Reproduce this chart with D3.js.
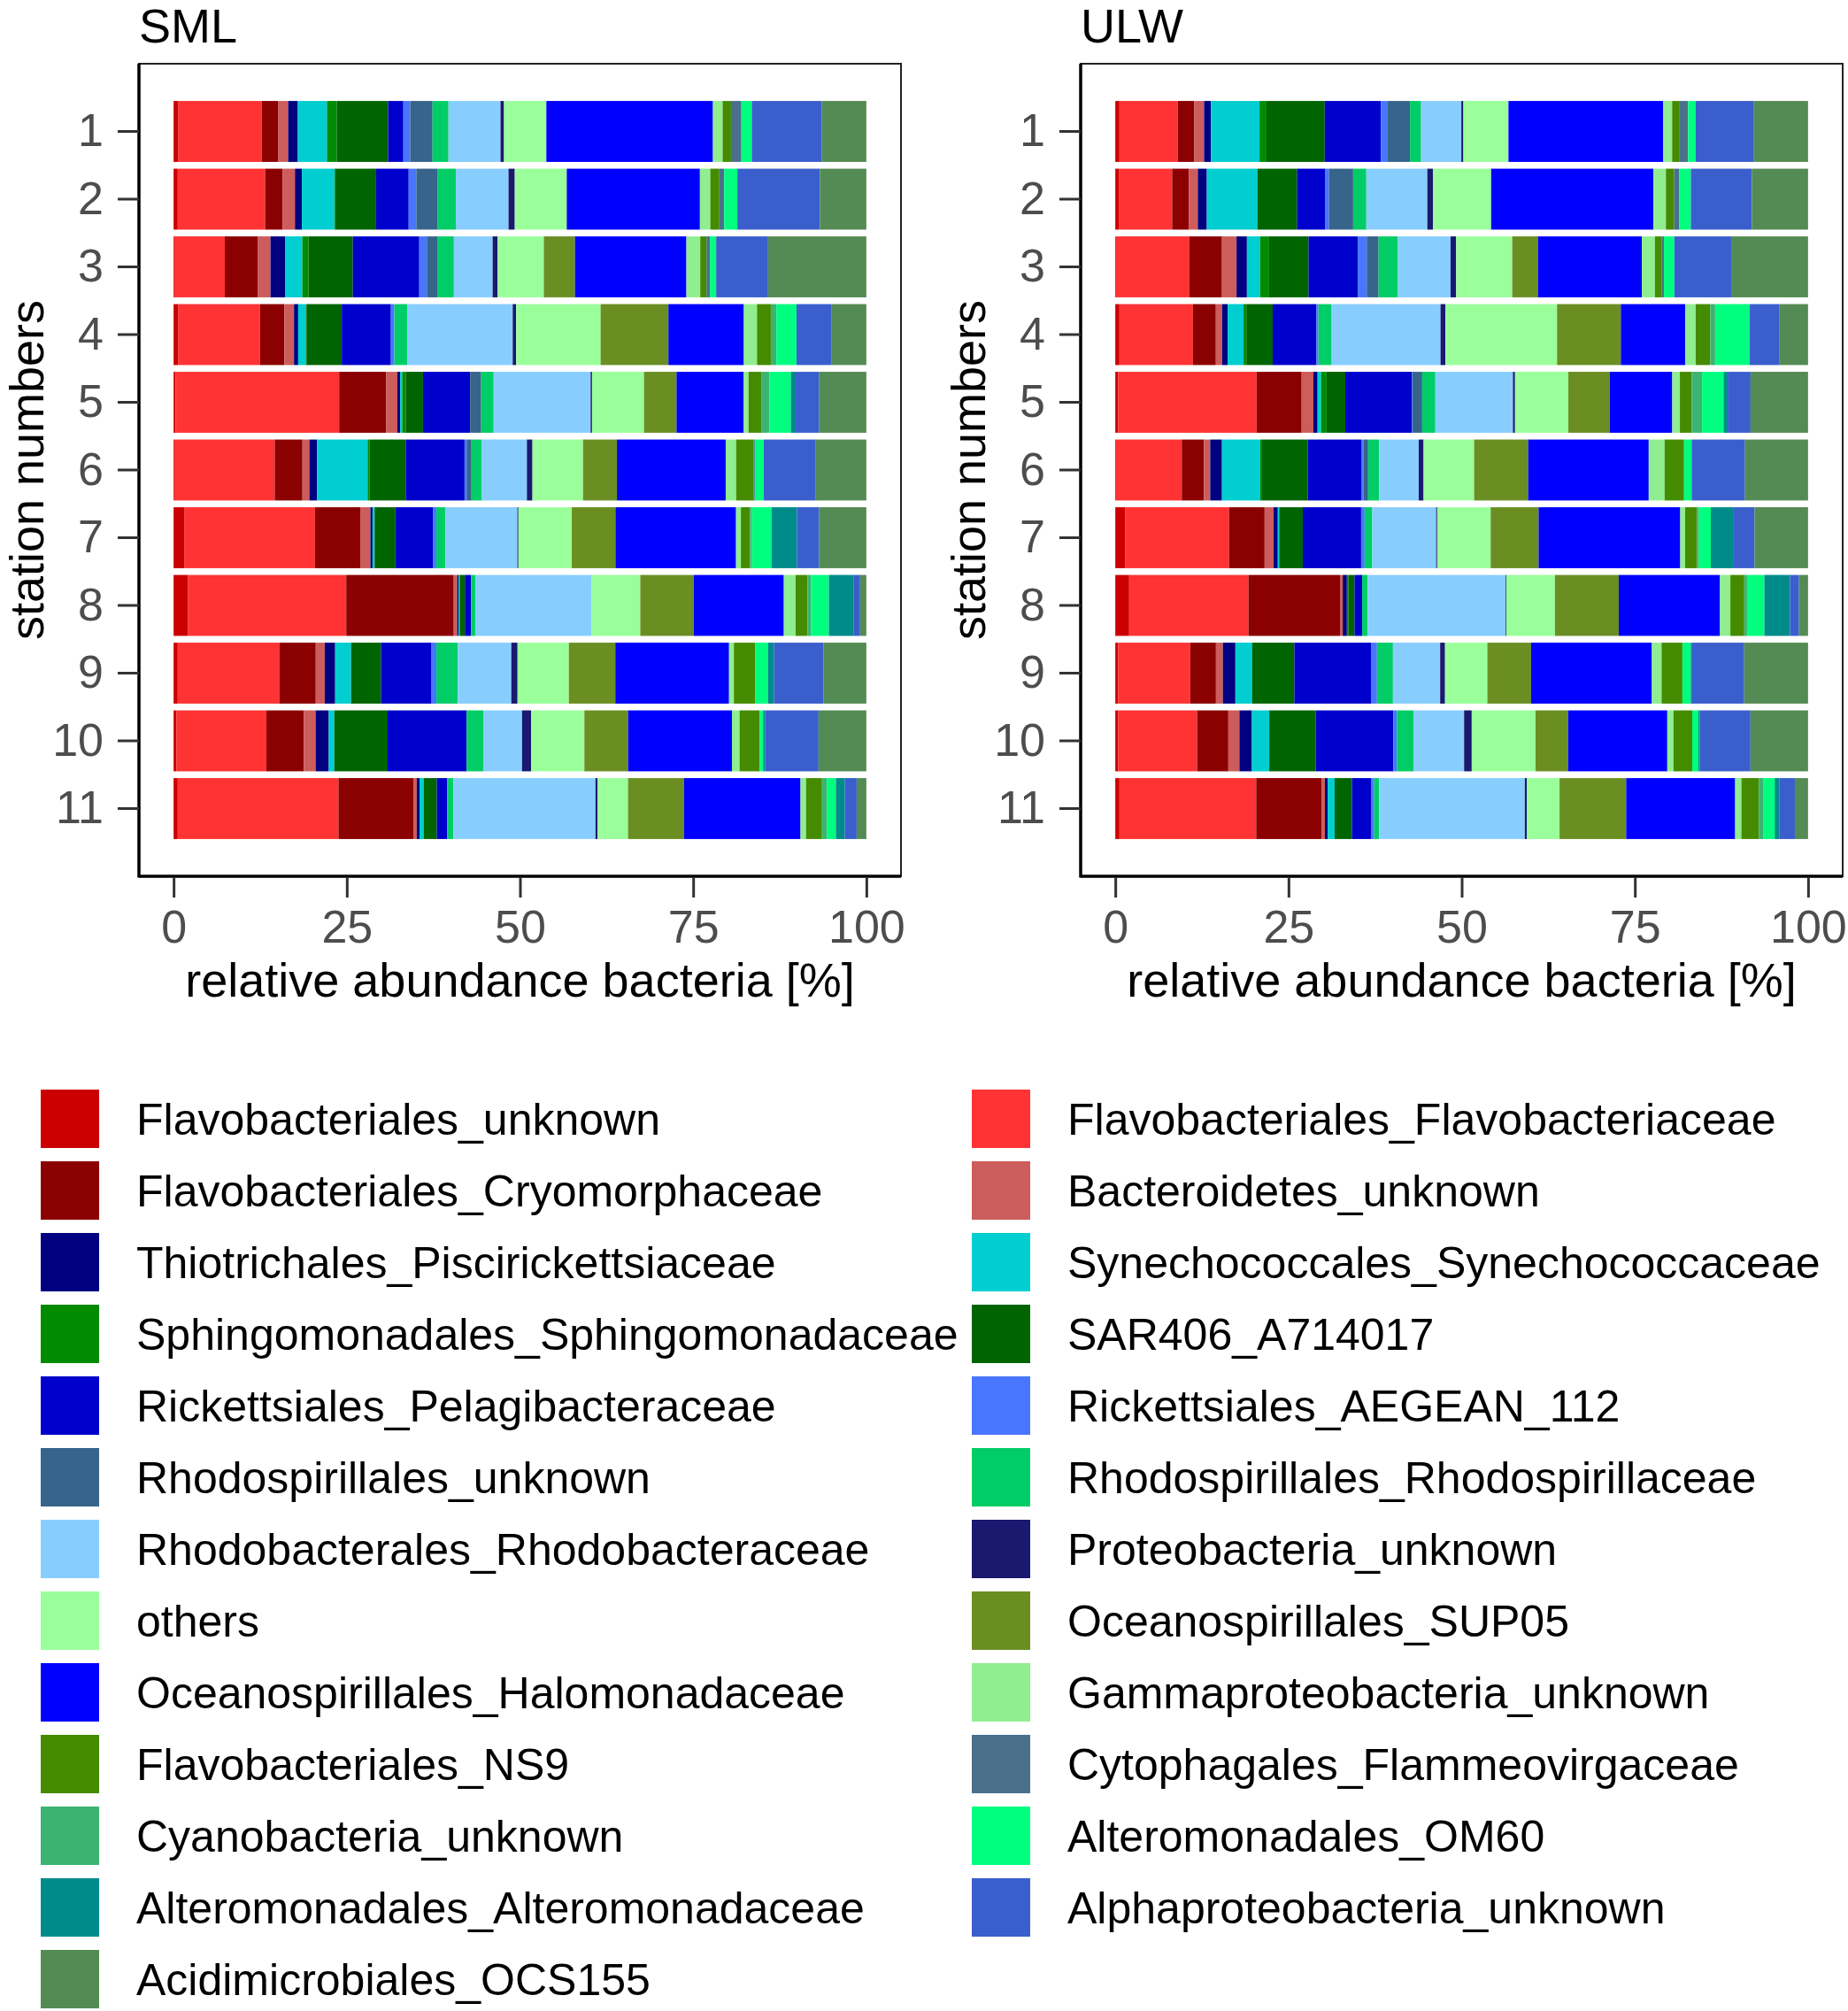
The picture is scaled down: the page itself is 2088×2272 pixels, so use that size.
<!DOCTYPE html>
<html>
<head>
<meta charset="utf-8">
<script src="https://cdn.jsdelivr.net/npm/d3@7"></script>
<style>
  body { margin: 0; background: #fff; }
  svg { font-family: "Liberation Sans", Arial, sans-serif; }
</style>
</head>
<body>
<svg id="chart"></svg>
<script>
/* stack order = legend order, read row by row */
const taxa = [
  "Flavobacteriales_unknown", "Flavobacteriales_Flavobacteriaceae",
  "Flavobacteriales_Cryomorphaceae", "Bacteroidetes_unknown",
  "Thiotrichales_Piscirickettsiaceae", "Synechococcales_Synechococcaceae",
  "Sphingomonadales_Sphingomonadaceae", "SAR406_A714017",
  "Rickettsiales_Pelagibacteraceae", "Rickettsiales_AEGEAN_112",
  "Rhodospirillales_unknown", "Rhodospirillales_Rhodospirillaceae",
  "Rhodobacterales_Rhodobacteraceae", "Proteobacteria_unknown",
  "others", "Oceanospirillales_SUP05",
  "Oceanospirillales_Halomonadaceae", "Gammaproteobacteria_unknown",
  "Flavobacteriales_NS9", "Cytophagales_Flammeovirgaceae",
  "Cyanobacteria_unknown", "Alteromonadales_OM60",
  "Alteromonadales_Alteromonadaceae", "Alphaproteobacteria_unknown",
  "Acidimicrobiales_OCS155"
];

const taxaColors = [
  "#CC0000", "#FF3333", "#8B0000", "#CD5C5C", "#000080", "#00CED1",
  "#008B00", "#006400", "#0000CD", "#4876FF", "#36648B", "#00CD66",
  "#87CEFF", "#191970", "#9AFF9A", "#6B8E23", "#0000FF", "#90EE90",
  "#458B00", "#4A708B", "#3CB371", "#00FF7F", "#008B8B", "#3A5FCD",
  "#548B54"
];

const stations = ["1", "2", "3", "4", "5", "6", "7", "8", "9", "10", "11"];
const xTicks = [0, 25, 50, 75, 100];

/* relative abundance per station (one row per station, columns follow taxa) */
const sml = [
  [0.7,12.0,2.4,1.4,1.4,4.2,1.4,7.4,2.2,1.0,3.2,2.3,7.5,0.5,6.1,0,24.0,1.4,1.2,1.5,0,1.5,0,10.1,6.4],
  [0.6,12.6,2.5,1.8,1.0,4.7,0.1,5.9,4.7,1.1,3.1,2.6,7.6,0.9,7.5,0,19.2,1.5,1.3,0.7,0,1.9,0,11.9,6.7],
  [0.1,7.3,4.8,1.8,2.1,2.5,0.9,6.4,9.6,1.1,1.5,2.4,5.6,0.7,6.7,4.5,16.1,2.0,0.9,0.5,0,0.9,0,7.5,14.2],
  [0.7,11.8,3.5,1.4,0.6,1.1,0.1,5.1,7.1,0.5,0,1.9,15.2,0.5,12.2,9.8,10.9,1.9,2.0,0,0.8,2.9,0,5.1,5.0],
  [0.3,23.6,6.8,1.6,0.4,0.3,0.5,2.5,6.8,0,1.6,1.8,14.0,0.2,7.5,4.7,9.7,0.7,1.9,0,1.1,3.1,0.7,3.4,6.8],
  [0.1,14.5,4.0,1.0,1.1,7.3,0.3,5.2,8.5,0.3,0.7,1.5,6.5,0.8,7.3,4.9,15.7,1.5,2.5,0.2,0,1.3,0,7.5,7.3],
  [1.6,18.8,6.6,1.4,0.3,0.3,0,3.0,5.4,0.5,0,1.3,10.4,0.15,7.7,6.3,17.4,0.7,1.3,0,0.3,2.8,3.7,3.2,6.8],
  [2.1,22.8,15.5,0.5,0.2,0.1,0.1,0.7,0.9,0,0,0.6,16.8,0,7.0,7.7,13.0,1.7,1.7,0,0.5,2.6,3.6,0.9,0.9],
  [0.6,14.7,5.2,1.3,1.5,2.3,0,4.3,7.3,0.7,0,3.1,7.7,0.9,7.4,6.7,16.4,0.7,3.1,0,0,1.8,0.9,7.1,6.2],
  [0.4,13.0,5.4,1.7,1.9,0.8,0,7.7,11.4,0,0,2.4,5.6,1.3,7.7,6.3,15.0,1.1,2.9,0,0,0.5,0.3,7.7,6.9],
  [0.6,23.2,10.8,0.5,0.4,0.6,0,1.9,1.5,0,0,0.9,20.5,0.3,4.4,8.1,16.8,0.8,2.3,0,0.7,1.3,1.3,1.7,1.4]
];

const ulw = [
  [0.6,8.4,2.4,1.4,1.0,7.0,1.0,8.4,8.1,1.0,3.2,1.6,5.8,0.3,6.5,0,22.3,1.3,1.0,1.3,0,1.1,0,8.4,7.8],
  [0.5,7.7,2.4,1.3,1.3,7.3,0,5.7,4.1,0.5,3.5,1.9,8.8,0.8,8.4,0,23.4,1.8,1.2,0.7,0,1.7,0,8.8,8.1],
  [0.1,10.6,4.7,2.1,1.5,1.9,1.3,5.7,7.1,1.3,1.7,2.8,7.6,0.8,8.1,3.7,15.0,1.9,1.0,0.3,0,1.5,0,8.2,11.1],
  [0.6,10.6,3.3,0.9,0.8,2.3,0.4,3.8,6.3,0.3,0,1.9,15.7,0.7,16.1,9.2,9.3,1.5,2.1,0,0.7,5.0,0,4.3,4.1],
  [0.4,20.0,6.5,1.7,0.6,0.5,0.8,2.7,9.6,0.1,1.4,1.9,11.2,0.3,7.7,6.0,9.0,1.1,1.7,0,1.5,3.1,0.6,3.3,8.3],
  [0.1,9.5,3.2,0.9,1.7,5.5,0.3,6.6,7.7,0.3,0.7,1.6,5.7,0.7,7.3,7.8,17.4,2.3,2.8,0,0,1.1,0,7.7,9.1],
  [1.4,15.0,5.1,1.3,0.6,0.2,0,3.4,8.4,0.5,0,1.1,9.2,0.15,7.7,6.9,20.4,0.7,1.7,0,0.3,1.7,3.3,3.0,7.7],
  [2.0,17.2,13.2,0.4,0.6,0,0.2,0.9,1.1,0,0,0.8,19.9,0.1,7.0,9.2,14.6,1.5,2.0,0,0.4,2.5,3.7,1.3,1.3],
  [0.4,10.4,3.7,1.0,1.8,2.4,0,6.1,11.1,0.8,0,2.3,6.8,0.7,6.1,6.3,17.4,1.4,3.0,0,0,1.2,0.2,7.5,9.2],
  [0.4,11.4,4.5,1.6,1.8,2.5,0,6.7,11.2,0.5,0,2.4,7.3,1.1,9.2,4.7,14.3,0.9,2.7,0,0,0.9,0.2,7.3,8.3],
  [0.6,19.7,9.4,0.5,0.4,1.0,0,2.5,2.8,0.4,0,0.7,21.0,0.3,4.7,9.6,15.7,0.9,2.5,0,0.7,1.6,0.7,2.2,1.9]
];

/* Define size */
const width = 2088, height = 2272;
const panelW = 861, plotTop = 72, plotBottom = 990;

const svg = d3.select("#chart").attr("width", width).attr("height", height);
svg.append("rect").attr("width", width).attr("height", height).attr("fill", "#fff");

const color = d3.scaleOrdinal().domain(taxa).range(taxaColors);

const drawPanel = (rows, title, left) => {
  const g = svg.append("g");

  /* Format data */
  const data = rows.map((r, i) => {
    const obj = { station: stations[i] };
    taxa.forEach((t, j) => (obj[t] = r[j]));
    return obj;
  });
  const series = d3.stack().keys(taxa).offset(d3.stackOffsetExpand)(data);

  /* Build Scales */
  const xScale = d3.scaleLinear().domain([-0.05, 1.05]).range([left, left + panelW]);
  const yScale = d3
    .scaleBand()
    .domain(stations)
    .range([plotTop, plotBottom])
    .paddingInner(0.1)
    .paddingOuter(0.55);

  /* Draw the data bars */
  g.selectAll("g.layer")
    .data(series)
    .enter()
    .append("g")
    .attr("class", "layer")
    .attr("fill", (d) => color(d.key))
    .selectAll("rect")
    .data((d) => d)
    .enter()
    .append("rect")
    .attr("x", (d) => xScale(d[0]))
    .attr("y", (d) => yScale(d.data.station))
    .attr("width", (d) => Math.max(0, xScale(d[1]) - xScale(d[0])))
    .attr("height", yScale.bandwidth());

  /* Panel box */
  g.append("rect")
    .attr("x", left).attr("y", plotTop)
    .attr("width", panelW).attr("height", plotBottom - plotTop)
    .attr("fill", "none").attr("stroke", "#222").attr("stroke-width", 2);
  g.append("line")
    .attr("x1", left).attr("x2", left).attr("y1", plotTop).attr("y2", plotBottom + 1.5)
    .attr("stroke", "#000").attr("stroke-width", 3.5);
  g.append("line")
    .attr("x1", left).attr("x2", left + panelW).attr("y1", plotBottom).attr("y2", plotBottom)
    .attr("stroke", "#000").attr("stroke-width", 3.5);

  /* Axes */
  const yAxis = d3.axisLeft(yScale).tickSize(24).tickSizeOuter(0).tickPadding(16);
  const yG = g.append("g").attr("transform", `translate(${left},0)`).call(yAxis);
  const xAxis = d3
    .axisBottom(xScale)
    .tickValues(xTicks.map((v) => v / 100))
    .tickFormat((d, i) => xTicks[i])
    .tickSize(23)
    .tickSizeOuter(0)
    .tickPadding(14);
  const xG = g.append("g").attr("transform", `translate(0,${plotBottom + 1})`).call(xAxis);

  [yG, xG].forEach((a) => {
    a.select(".domain").remove();
    a.selectAll(".tick line").attr("stroke", "#333").attr("stroke-width", 3);
    a.selectAll(".tick text")
      .attr("fill", "#4D4D4D")
      .style("font-size", "52px")
      .style("font-family", "'Liberation Sans', Arial, sans-serif");
  });

  /* Titles */
  g.append("text")
    .attr("x", left).attr("y", 48)
    .style("font-size", "54px")
    .text(title);
  g.append("text")
    .attr("x", left + panelW / 2).attr("y", 1126)
    .attr("text-anchor", "middle")
    .style("font-size", "54px")
    .text("relative abundance bacteria [%]");
  g.append("text")
    .attr("transform", `translate(${left - 108},${(plotTop + plotBottom) / 2}) rotate(-90)`)
    .attr("text-anchor", "middle")
    .style("font-size", "54px")
    .text("station numbers");
};

drawPanel(sml, "SML", 157);
drawPanel(ulw, "ULW", 1221);

/* Legend, two columns filled row by row */
const legend = svg
  .append("g")
  .selectAll("g")
  .data(taxa)
  .enter()
  .append("g")
  .attr("transform", (d, i) => `translate(${i % 2 === 0 ? 46 : 1098},${1264 + Math.floor(i / 2) * 81})`);

legend.append("rect")
  .attr("x", 0).attr("y", -33)
  .attr("width", 66).attr("height", 66)
  .attr("fill", (d) => color(d));

legend.append("text")
  .attr("x", 108).attr("y", 0).attr("dy", "0.35em")
  .style("font-size", "50px")
  .text((d) => d);
</script>
</body>
</html>
